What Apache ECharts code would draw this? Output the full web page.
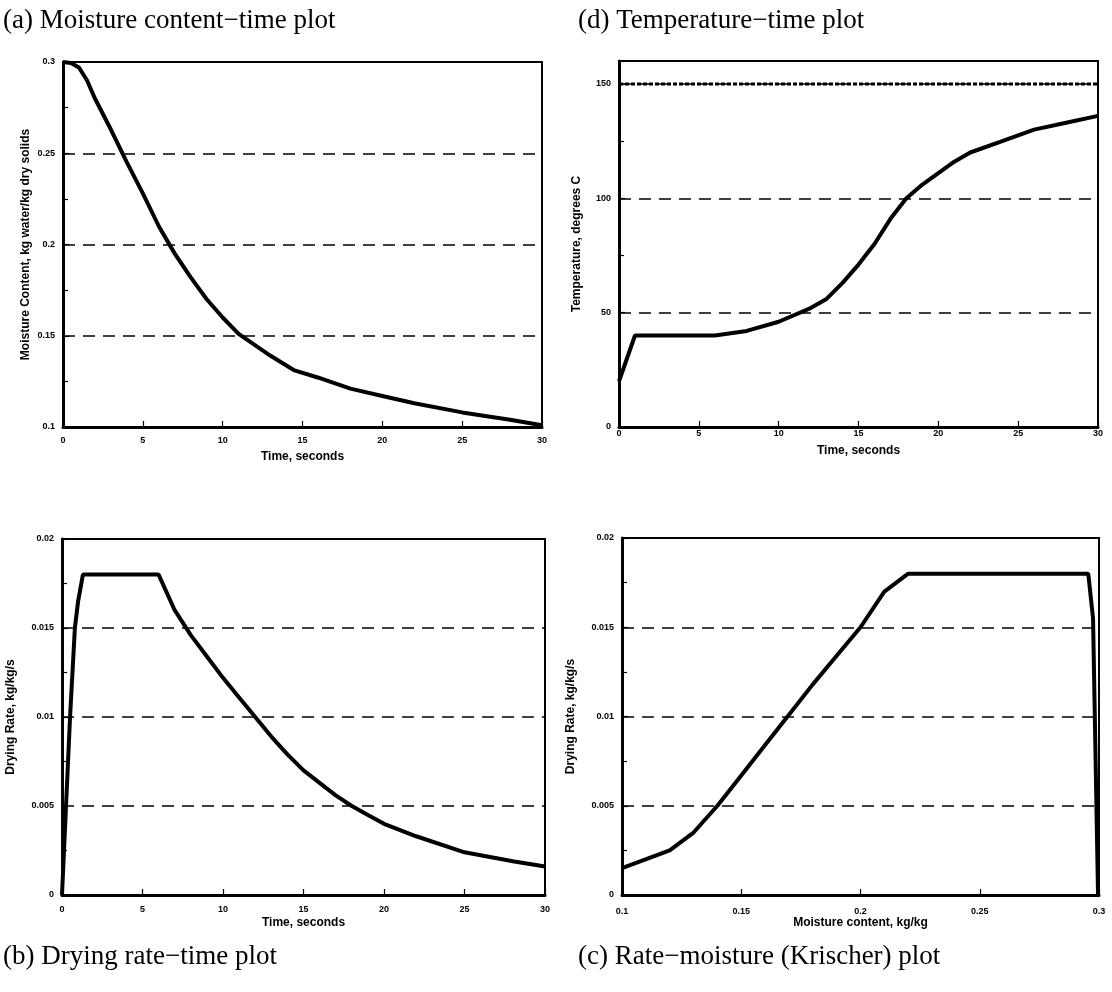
<!DOCTYPE html>
<html>
<head>
<meta charset="utf-8">
<script src="https://cdn.jsdelivr.net/npm/echarts@6/dist/echarts.min.js"></script>
<style>html,body{margin:0;padding:0;background:#fff}#c{width:1112px;height:992px}</style>
</head>
<body>
<div id="c"></div>
<script>
// (a) Moisture content vs time
const timeA = [0, 0.5, 1, 1.5, 2, 3, 4, 5, 6, 7, 8, 9, 10, 11, 12, 13, 14.5, 16, 18, 20, 22, 25, 28, 30];
const moistA = [0.3, 0.2995, 0.297, 0.29, 0.28, 0.263, 0.245, 0.228, 0.21, 0.195, 0.182, 0.17, 0.16, 0.151, 0.145, 0.139, 0.131, 0.127, 0.121, 0.117, 0.113, 0.108, 0.104, 0.101];
// (d) Temperature vs time
const timeD = [0, 1, 6, 8, 10, 12, 13, 14, 15, 16, 17, 18, 19, 20, 21, 22, 24, 26, 28, 30];
const tempD = [20, 40, 40, 42, 46, 52, 56, 63, 71, 80, 91, 100, 106, 111, 116, 120, 125, 130, 133, 136];
const airTime = [0, 30];
const airTemp = [150, 150];
// (b) Drying rate vs time
const timeB = [0, 0.5, 0.8, 1, 1.3, 6, 7, 8, 9, 10, 11, 12, 13, 14, 15, 16, 17, 18, 19, 20, 22, 25, 28, 30];
const rateB = [0, 0.01, 0.015, 0.0165, 0.018, 0.018, 0.016, 0.0146, 0.0134, 0.0122, 0.0111, 0.01, 0.0089, 0.0079, 0.007, 0.0063, 0.0056, 0.005, 0.0045, 0.004, 0.0033, 0.0024, 0.0019, 0.0016];
// (c) Rate vs moisture (Krischer)
const moistC = [0.1, 0.12, 0.13, 0.14, 0.15, 0.16, 0.17, 0.18, 0.19, 0.2, 0.21, 0.22, 0.2955, 0.2975, 0.2996];
const rateC = [0.0015, 0.0025, 0.0035, 0.005, 0.0067, 0.0084, 0.0101, 0.0118, 0.0134, 0.015, 0.017, 0.018, 0.018, 0.0155, 0.0];

const titles = ['(a) Moisture content\u2212time plot', '(d) Temperature\u2212time plot', '(b) Drying rate\u2212time plot', '(c) Rate\u2212moisture (Krischer) plot'];
const xNames = ['Time, seconds', 'Time, seconds', 'Time, seconds', 'Moisture content, kg/kg'];
const yNames = ['Moisture Content, kg water/kg dry solids', 'Temperature, degrees C', 'Drying Rate, kg/kg/s', 'Drying Rate, kg/kg/s'];

const zip = (a, b) => a.map((v, i) => [v, b[i]]);
const lab = {fontFamily: 'Liberation Sans', fontWeight: 'bold', fontSize: 9, color: '#000'};
const nameSt = {fontFamily: 'Liberation Sans', fontWeight: 'bold', fontSize: 12, color: '#000'};

function xAx(i, min, max, interval, margin, gap, fmt) {
  return {
    type: 'value', gridIndex: i, min, max, interval,
    name: xNames[i], nameLocation: 'middle', nameGap: gap, nameTextStyle: nameSt,
    axisLine: {show: true, lineStyle: {color: '#000', width: 3}},
    axisTick: {show: true, inside: true, length: 6, lineStyle: {color: '#000', width: 1.2}},
    axisLabel: Object.assign({margin, formatter: fmt}, lab),
    splitLine: {show: false}
  };
}
function yAx(i, min, max, interval, gap, fmt, showMax) {
  return {
    type: 'value', gridIndex: i, min, max, interval,
    name: yNames[i], nameLocation: 'middle', nameGap: gap, nameTextStyle: nameSt,
    axisLine: {show: true, lineStyle: {color: '#000', width: 3}},
    axisTick: {show: true, inside: true, length: 6, lineStyle: {color: '#000', width: 1.2}},
    minorTick: {show: true, splitNumber: 2, length: 5, lineStyle: {color: '#000', width: 1.2}},
    axisLabel: Object.assign({margin: 8, formatter: fmt, showMaxLabel: showMax !== false}, lab),
    splitLine: {show: true, lineStyle: {color: '#000', width: 1.5, type: [12, 8]}}
  };
}
const lineSer = (i, data, w) => ({
  type: 'line', xAxisIndex: i, yAxisIndex: i, data, showSymbol: false, symbol: 'none',
  lineStyle: {color: '#000', width: w}, z: 5, animation: false
});

const chart = echarts.init(document.getElementById('c'));
chart.setOption({
  animation: false,
  backgroundColor: '#fff',
  title: [
    {text: titles[0], left: 3, top: 7},
    {text: titles[1], left: 578, top: 7},
    {text: titles[2], left: 3, top: 943},
    {text: titles[3], left: 578, top: 943}
  ].map(t => Object.assign(t, {padding: 0, textStyle: {fontFamily: 'Liberation Serif', fontWeight: 'normal', fontSize: 27, color: '#000'}})),
  grid: [
    {left: 63, top: 62, width: 479, height: 365},
    {left: 619, top: 61, width: 479, height: 366},
    {left: 62, top: 539, width: 483, height: 356},
    {left: 622, top: 538, width: 477, height: 357}
  ].map(g => Object.assign(g, {show: true, borderColor: '#000', borderWidth: 2, backgroundColor: 'transparent'})),
  xAxis: [
    xAx(0, 0, 30, 5, 9, 24),
    xAx(1, 0, 30, 5, 2, 18),
    xAx(2, 0, 30, 5, 10, 22),
    xAx(3, 0.1, 0.3, 0.05, 12, 22, v => String(+v.toFixed(2)))
  ],
  yAxis: [
    yAx(0, 0.1, 0.3, 0.05, 31, v => String(+v.toFixed(2))),
    yAx(1, 0, 160, 50, 36, v => (v > 150 ? '' : String(v)), false),
    yAx(2, 0, 0.02, 0.005, 45, v => String(+v.toFixed(3))),
    yAx(3, 0, 0.02, 0.005, 45, v => String(+v.toFixed(3)))
  ],
  series: [
    lineSer(0, zip(timeA, moistA), 4),
    lineSer(1, zip(timeD, tempD), 4),
    Object.assign(lineSer(1, zip(airTime, airTemp), 3), {lineStyle: {color: '#000', width: 3, type: [4, 2]}}),
    lineSer(2, zip(timeB, rateB), 4),
    lineSer(3, zip(moistC, rateC), 4)
  ]
});
</script>
</body>
</html>
